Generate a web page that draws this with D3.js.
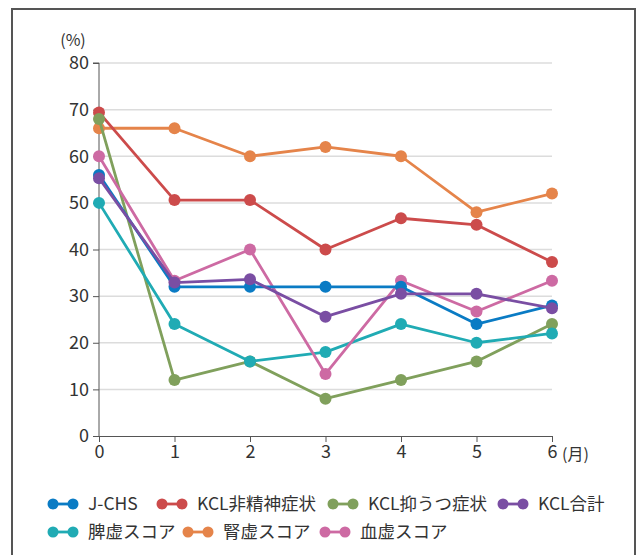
<!DOCTYPE html>
<html><head><meta charset="utf-8">
<script src="https://cdn.jsdelivr.net/npm/d3@7"></script>
<style>
html,body{margin:0;padding:0;background:#fff;}
text{font-family:"Noto Sans CJK JP","Noto Sans",sans-serif;fill:#333;}
</style></head>
<body>
<svg id="c" width="640" height="555"></svg>
<script>
const months = [0,1,2,3,4,5,6];
const yTicks = [0,10,20,30,40,50,60,70,80];
const seriesNames = ["J-CHS","KCL非精神症状","KCL抑うつ症状","KCL合計","脾虚スコア","腎虚スコア","血虚スコア"];
const colors = ["#0a7bc4","#cc4b4b","#80a05c","#7a4ea3","#20abb4","#e5844a","#cd6aa3"];
const jchs   = [56,32,32,32,32,24,28];
const kclNon = [69.4,50.6,50.6,40,46.7,45.3,37.3];
const kclDep = [68,12,16,8,12,16,24];
const kclTot = [55.3,32.9,33.6,25.6,30.5,30.5,27.4];
const hikyo  = [50,24,16,18,24,20,22];
const jinkyo = [66,66,60,62,60,48,52];
const kekkyo = [60,33.3,40,13.3,33.3,26.7,33.3];
const allValues = [jchs,kclNon,kclDep,kclTot,hikyo,jinkyo,kekkyo];
// drawing order (last on top)
const drawOrder = [5,1,2,4,6,0,3];

const svg = d3.select("#c");
// frame
svg.append("rect").attr("x",12).attr("y",9).attr("width",623).attr("height",560)
  .attr("fill","none").attr("stroke","#555").attr("stroke-width",2);

const x = d3.scaleLinear().domain([0,6]).range([99,552]);
const y = d3.scaleLinear().domain([0,80]).range([436,63]);

// gridlines
svg.append("g").selectAll("line").data(yTicks.filter(d=>d>0)).join("line")
  .attr("x1",x(0)).attr("x2",x(6)).attr("y1",d=>y(d)).attr("y2",d=>y(d))
  .attr("stroke","#dcdcdc").attr("stroke-width",1.5);

// y axis
const yAxis = svg.append("g").attr("transform",`translate(${x(0)},0)`)
  .call(d3.axisLeft(y).tickValues(yTicks).tickFormat(d3.format("d")).tickSize(6).tickPadding(4));
yAxis.attr("font-family",null).attr("font-size",null);
yAxis.select(".domain").attr("stroke","#555").attr("d",`M-6,${y(80)}H0V${y(0)}`);
yAxis.selectAll(".tick line").attr("stroke","#555");
yAxis.selectAll(".tick text").attr("font-size",18).attr("fill","#333");

// x axis
const xAxis = svg.append("g").attr("transform",`translate(0,${y(0)})`)
  .call(d3.axisBottom(x).tickValues(months).tickFormat(d3.format("d")).tickSize(6).tickPadding(3));
xAxis.attr("font-family",null).attr("font-size",null);
xAxis.select(".domain").attr("stroke","#555");
xAxis.selectAll(".tick line").attr("stroke","#555");
xAxis.selectAll(".tick text").attr("font-size",18).attr("fill","#333");

svg.append("text").attr("x",73).attr("y",46).attr("text-anchor","middle").attr("font-size",16).text("(%)");
svg.append("text").attr("x",562).attr("y",460).attr("font-size",16).text("(月)");

// lines
const line = d3.line().x((d,i)=>x(months[i])).y(d=>y(d));
drawOrder.forEach(k=>{
  const g = svg.append("g");
  g.append("path").attr("d",line(allValues[k])).attr("fill","none")
    .attr("stroke",colors[k]).attr("stroke-width",2.8).attr("stroke-linejoin","round");
  g.selectAll("circle").data(allValues[k]).join("circle")
    .attr("cx",(d,i)=>x(months[i])).attr("cy",d=>y(d)).attr("r",6).attr("fill",colors[k]);
});

// legend
const legendPos = [[48,504],[157,504],[328,504],[498,504],[48,532],[183,532],[320,532]];
seriesNames.forEach((name,k)=>{
  const [lx,ly] = legendPos[k];
  const g = svg.append("g").attr("transform",`translate(${lx},${ly})`);
  g.append("line").attr("x1",5).attr("x2",25).attr("y1",0).attr("y2",0).attr("stroke",colors[k]).attr("stroke-width",2.8);
  g.append("circle").attr("cx",5).attr("cy",0).attr("r",5.5).attr("fill",colors[k]);
  g.append("circle").attr("cx",25).attr("cy",0).attr("r",5.5).attr("fill",colors[k]);
  g.append("text").attr("x",40).attr("y",0).attr("dy","0.35em").attr("font-size",17.5).text(name);
});
</script>
</body></html>
